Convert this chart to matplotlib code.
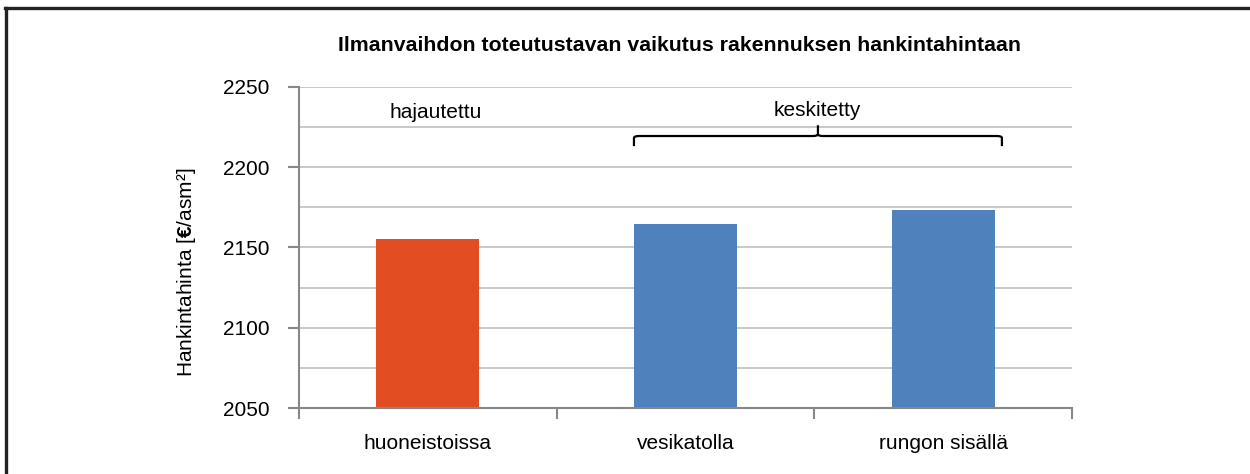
import matplotlib
matplotlib.use("Agg")
import matplotlib.pyplot as plt
from matplotlib.lines import Line2D
from matplotlib.path import Path
from matplotlib.patches import PathPatch

plt.rcParams['font.family'] = ['Liberation Sans', 'DejaVu Sans']
plt.rcParams['mathtext.fontset'] = 'custom'
plt.rcParams['mathtext.rm'] = 'Liberation Sans'
plt.rcParams['mathtext.bf'] = 'Liberation Sans:bold'

categories = ["huoneistoissa", "vesikatolla", "rungon sisällä"]
values = [2155, 2164.5, 2173.5]
colors = ["#E24E22", "#4F81BD", "#4F81BD"]
title = "Ilmanvaihdon toteutustavan vaikutus rakennuksen hankintahintaan"
ylabel = r"Hankintahinta [$\mathbf{€}$/asm²]"
yticks = [2050, 2100, 2150, 2200, 2250]

fig = plt.figure(figsize=(12.5, 4.74), dpi=100)
ax = fig.add_axes([299/1250, 1-408/474, (1072-299)/1250, (408-86.7)/474])

x = list(range(len(categories)))
ax.bar(x, [v - 2050 for v in values], bottom=2050, width=0.4, color=colors, zorder=3)

ax.set_xlim(-0.5, 2.5)
ax.set_ylim(2050, 2250)
ax.set_yticks(yticks)
ax.set_yticklabels([str(t) for t in yticks], fontsize=15)
ax.set_yticks([2075, 2125, 2175, 2225], minor=True)
ax.tick_params(axis='y', which='minor', length=0)
ax.tick_params(axis='y', which='major', length=8, width=1.5, color='#888888', pad=13)
ax.grid(axis='y', which='both', color='#C4C4C4', lw=1.3, zorder=0)

ax.set_xticks(x)
ax.set_xticklabels(categories, fontsize=15)
ax.tick_params(axis='x', which='major', length=0, pad=19)
ax.set_xticks([-0.5, 0.5, 1.5, 2.5], minor=True)
ax.tick_params(axis='x', which='minor', length=8, width=1.5, color='#888888')

for s in ['top', 'right']:
    ax.spines[s].set_visible(False)
for s in ['left', 'bottom']:
    ax.spines[s].set_color('#888888')
    ax.spines[s].set_linewidth(1.5)
    ax.spines[s].set_zorder(4)

ax.set_ylabel(ylabel, fontsize=15, va='center')
ax.yaxis.set_label_coords(-0.146, 0.423)

fig.text(680/1250, 1-45/474, title, fontsize=15.3, fontweight='bold', ha='center', va='center')

ax.text(0.03, 2234, "hajautettu", fontsize=15, ha='center', va='center')
ax.text(1.51, 2235, "keskitetty", fontsize=15, ha='center', va='center')

# brace
x0, x1, xm = 0.80, 2.228, 1.514
yb, ye, yt = 2219.3, 2213.0, 2226.0
r = 0.02
dy = 1.2
verts = [(x0, ye), (x0, yb - dy), (x0, yb), (x0 + r, yb),
         (xm - r, yb), (xm, yb), (xm, yb + dy), (xm, yt),
         (xm, yb + dy), (xm, yb), (xm + r, yb),
         (x1 - r, yb), (x1, yb), (x1, yb - dy), (x1, ye)]
codes = [Path.MOVETO, Path.LINETO, Path.CURVE3, Path.CURVE3,
         Path.LINETO, Path.CURVE3, Path.CURVE3, Path.LINETO,
         Path.MOVETO, Path.CURVE3, Path.CURVE3,
         Path.LINETO, Path.CURVE3, Path.CURVE3, Path.LINETO]
ax.add_patch(PathPatch(Path(verts, codes), fill=False, lw=1.6, color='black', zorder=5, clip_on=False))

# frame
fig.add_artist(Line2D([5/1250, 1], [1-8/474, 1-8/474], transform=fig.transFigure, color='#222222', lw=2.4))
fig.add_artist(Line2D([6/1250, 6/1250], [0, 1-8/474], transform=fig.transFigure, color='#222222', lw=2.4))

fig.savefig("out.png", dpi=100)
